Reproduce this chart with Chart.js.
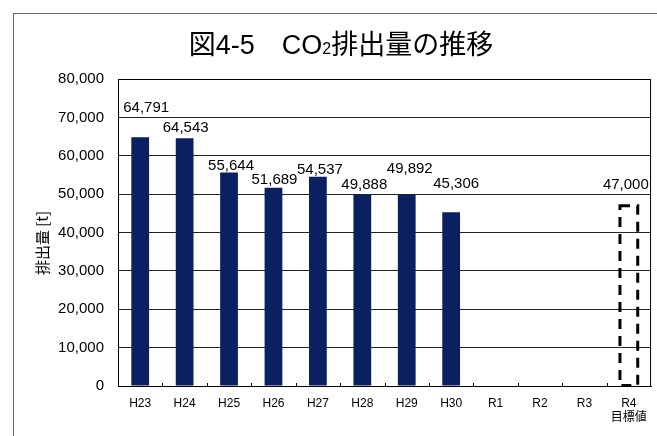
<!DOCTYPE html>
<html lang="ja">
<head>
<meta charset="utf-8">
<script src="https://cdn.jsdelivr.net/npm/chart.js@4.4.1/dist/chart.umd.min.js"></script>
<style>
  html, body { margin: 0; padding: 0; background: #fff; }
  #co2Chart { display: block; }
</style>
</head>
<body>
<canvas id="co2Chart" width="657" height="436"></canvas>
<script>
// CO2 emissions by fiscal year, last category is the R4 target
const years = ['H23', 'H24', 'H25', 'H26', 'H27', 'H28', 'H29', 'H30', 'R1', 'R2', 'R3', ['R4', '目標値']];
const emissions = [64791, 64543, 55644, 51689, 54537, 49888, 49892, 45306, null, null, null, 47000];
const targetIndex = 11;
const yTicks = [0, 10000, 20000, 30000, 40000, 50000, 60000, 70000, 80000];
const yTitle = '排出量 [t]';

// where each value label sits relative to the top of its bar (px)
const labelShift = [[6, -30], [1, -10], [2, -7], [1, -8], [2, -7], [2, -10], [3, -26], [5, -28], null, null, null, [-3, -21]];

const FONT = "'Liberation Sans', Arial, 'Noto Sans CJK JP', sans-serif";
const NAVY = '#0a2060';

const fmt = v => v.toLocaleString('en-US');

const framePlugin = {
  id: 'frame',
  beforeDraw(chart) {
    const ctx = chart.ctx;
    ctx.save();
    ctx.strokeStyle = '#666';
    ctx.lineWidth = 1;
    ctx.strokeRect(13.5, 13.5, 700, 500);

    // title with a subscript 2
    const runs = [['図4-5', 27], ['　', 27], ['CO', 27], ['2', 16], ['排出量の推移', 27]];
    let total = 0;
    runs.forEach(([t, s]) => { ctx.font = s + 'px ' + FONT; total += ctx.measureText(t).width; });
    let x = 341 - total / 2;
    ctx.fillStyle = '#000';
    ctx.textBaseline = 'alphabetic';
    ctx.textAlign = 'left';
    runs.forEach(([t, s]) => {
      ctx.font = s + 'px ' + FONT;
      ctx.fillText(t, x, 54);
      x += ctx.measureText(t).width;
    });

    // rotated axis title, sits a little below the middle of the axis
    ctx.translate(42, 243);
    ctx.rotate(-Math.PI / 2);
    ctx.font = "15px 'Noto Sans CJK JP', sans-serif";
    ctx.textAlign = 'center';
    ctx.textBaseline = 'middle';
    ctx.fillText(yTitle, 0, 0);
    ctx.restore();
  }
};

const marksPlugin = {
  id: 'marks',
  afterDatasetsDraw(chart) {
    const ctx = chart.ctx;
    const area = chart.chartArea;
    const meta = chart.getDatasetMeta(0);
    const xs = chart.scales.x;
    ctx.save();

    // target bar: dashed outline only
    const bar = meta.data[targetIndex];
    ctx.strokeStyle = '#000';
    ctx.lineWidth = 3;
    ctx.setLineDash([10, 7]);
    ctx.strokeRect(bar.x - bar.width / 2, bar.y, bar.width, bar.base - bar.y);
    ctx.setLineDash([]);

    // plot border
    ctx.lineWidth = 1;
    ctx.strokeStyle = '#000';
    ctx.strokeRect(area.left + 0.5, area.top + 0.5, area.right - area.left - 1, area.bottom - area.top);

    // small inward tick marks between categories
    for (let i = 0; i < years.length - 1; i++) {
      const tx = Math.round((xs.getPixelForTick(i) + xs.getPixelForTick(i + 1)) / 2) + 0.5;
      ctx.beginPath();
      ctx.moveTo(tx, area.bottom);
      ctx.lineTo(tx, area.bottom - 3);
      ctx.stroke();
    }

    // value labels
    ctx.fillStyle = '#000';
    ctx.font = '15px ' + FONT;
    ctx.textAlign = 'center';
    ctx.textBaseline = 'middle';
    emissions.forEach((v, i) => {
      if (v == null || !labelShift[i]) return;
      const el = meta.data[i];
      ctx.fillText(fmt(v), el.x + labelShift[i][0], el.y + labelShift[i][1]);
    });
    ctx.restore();
  }
};

new Chart(document.getElementById('co2Chart'), {
  type: 'bar',
  data: {
    labels: years,
    datasets: [{
      data: emissions,
      backgroundColor: emissions.map((v, i) => i === targetIndex ? 'rgba(0,0,0,0)' : NAVY),
      borderWidth: 0,
      barPercentage: 0.4,
      categoryPercentage: 1
    }]
  },
  options: {
    responsive: false,
    animation: false,
    layout: { padding: { top: 79, right: 4, left: 0, bottom: 0 } },
    plugins: {
      legend: { display: false },
      tooltip: { enabled: false }
    },
    scales: {
      x: {
        grid: { display: false, drawTicks: false },
        border: { display: true, color: '#000', width: 1 },
        ticks: {
          color: '#000',
          font: { size: 12, family: FONT },
          padding: 10,
          maxRotation: 0,
          autoSkip: false
        },
        afterFit: s => { s.height = 50; }
      },
      y: {
        min: 0,
        max: 80000,
        afterBuildTicks: s => { s.ticks = yTicks.map(v => ({ value: v })); },
        ticks: {
          color: '#000',
          font: { size: 15, family: FONT },
          padding: 14,
          callback: v => fmt(v)
        },
        grid: { color: '#222', lineWidth: 1, drawTicks: false },
        border: { display: true, color: '#000', width: 1 },
        afterFit: s => { s.width = 118; }
      }
    }
  },
  plugins: [framePlugin, marksPlugin]
});
</script>
</body>
</html>
